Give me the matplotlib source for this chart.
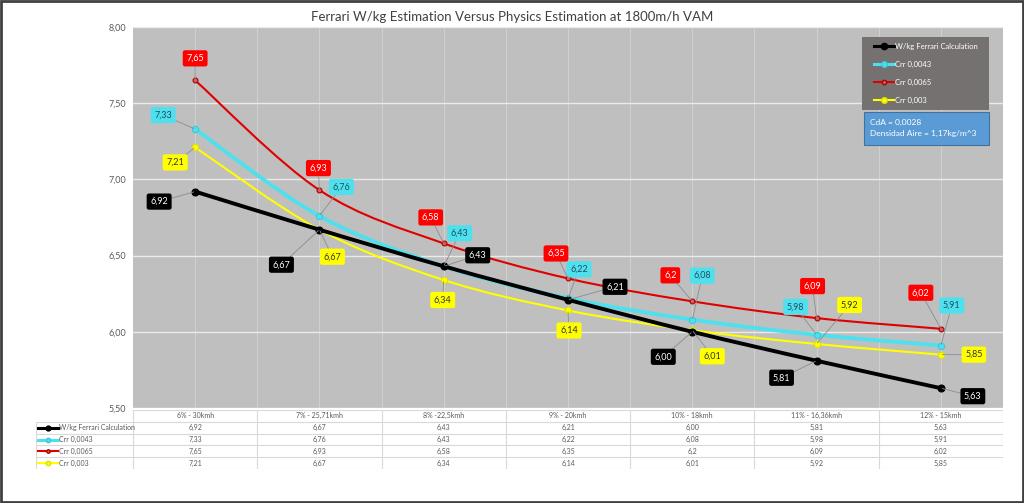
import numpy as np
import matplotlib
matplotlib.use("Agg")
import matplotlib.pyplot as plt
from matplotlib.path import Path
from matplotlib.patches import PathPatch, Rectangle
from matplotlib.lines import Line2D

plt.rcParams['font.family'] = ['Lato', 'DejaVu Sans']

# ---------------- data ----------------
categories = ["6% - 30kmh", "7% - 25,71kmh", "8% -22,5kmh", "9% - 20kmh",
              "10% - 18kmh", "11% - 16,36kmh", "12% - 15kmh"]
ferrari = [6.92, 6.67, 6.43, 6.21, 6.00, 5.81, 5.63]
crr_0043 = [7.33, 6.76, 6.43, 6.22, 6.08, 5.98, 5.91]
crr_0065 = [7.65, 6.93, 6.58, 6.35, 6.2, 6.09, 6.02]
crr_003 = [7.21, 6.67, 6.34, 6.14, 6.01, 5.92, 5.85]
series_names = ["W/kg Ferrari Calculation", "Crr 0,0043", "Crr 0,0065", "Crr 0,003"]
title = "Ferrari W/kg Estimation Versus Physics Estimation at 1800m/h VAM"
y_ticks = [5.5, 6.0, 6.5, 7.0, 7.5, 8.0]

# ---------------- styles ----------------
W, H = 1024, 503
fig = plt.figure(figsize=(W / 100, H / 100), dpi=100)
fig.patch.set_facecolor('white')

def fr(l, t, r, b):
    return [l / W, 1 - b / H, (r - l) / W, (b - t) / H]

def fx(px):
    return px / W

def fy(py):
    return 1 - py / H

styles = [
    dict(color='#000000', lw=2.8, ms=5.0, mfc='#000000', mec='#000000',
         fmt='{:.2f}', box='#000000', tc='white'),
    dict(color='#4FE0EE', lw=2.8, ms=4.5, mfc='#4FE0EE', mec='#3CC8D8',
         fmt='{:.2f}', box='#4FE0EE', tc='#1F4E60'),
    dict(color='#E00000', lw=1.5, ms=3.5, mfc='#D06060', mec='#B00000',
         fmt='{:g}', box='#FF0000', tc='white'),
    dict(color='#FFFF00', lw=1.5, ms=4.5, mfc='#FFFF00', mec='#E0E000',
         fmt='{:.2f}', box='#FFFF00', tc='#333333'),
]
# label offsets in pixels (dx right, dy down) per series per point
offsets = [
    [(-36, 10), (-38, 35), (34, -11), (47, -13), (-29, 25), (-35, 17), (32, 8)],
    [(-32, -14), (22, -29), (16, -33), (11, -29), (10, -44), (-21, -28), (11, -40)],
    [(0, -22), (-1, -22), (-13, -26), (-12, -25), (-22, -26), (-4, -32), (-20, -36)],
    [(-20, 15), (13, 27), (-1, 20), (1, 20), (20, 26), (33, -39), (33, 0)],
]

all_series = [ferrari, crr_0043, crr_0065, crr_003]

# ---------------- main axes ----------------
ax = fig.add_axes(fr(133, 27, 1003, 408))
ax.set_facecolor('#BFBFBF')
ax.set_xlim(-0.5, 6.5)
ax.set_ylim(5.5, 8.0)
for s in ax.spines.values():
    s.set_visible(False)
ax.set_yticks(y_ticks)
ax.set_yticklabels([f"{v:.2f}".replace('.', ',') for v in y_ticks],
                   fontsize=6.5, color='#595959')
ax.tick_params(axis='y', length=0, pad=5)
ax.set_xticks(np.arange(0, 6.6, 0.5))
ax.tick_params(axis='x', length=0, labelbottom=False)
ax.grid(axis='y', color='#EAEAEA', lw=1.0)
ax.grid(axis='x', color='#D0D0D0', lw=0.8)
ax.set_axisbelow(True)


def smooth_path(xs, ys):
    pts = np.column_stack([xs, ys]).astype(float)
    n = len(pts)
    verts = [pts[0]]
    codes = [Path.MOVETO]
    for i in range(n - 1):
        p0 = pts[i - 1] if i > 0 else pts[i]
        p1 = pts[i]
        p2 = pts[i + 1]
        p3 = pts[i + 2] if i + 2 < n else pts[i + 1]
        c1 = p1 + (p2 - p0) / 6.0
        c2 = p2 - (p3 - p1) / 6.0
        verts += [c1, c2, p2]
        codes += [Path.CURVE4] * 3
    return Path(verts, codes)


x = np.arange(len(categories))
order = [3, 2, 1, 0]
zs = {0: 5, 1: 4, 2: 3, 3: 3.5}
for k in order:
    vals = all_series[k]
    st = styles[k]
    ax.add_patch(PathPatch(smooth_path(x, vals), fc='none', ec=st['color'],
                           lw=st['lw'], zorder=zs[k], capstyle='round'))
    ax.plot(x, vals, ls='none', marker='o', ms=st['ms'], mfc=st['mfc'],
            mec=st['mec'], mew=0.8, zorder=zs[k] + 0.1)

for k in range(4):
    vals = all_series[k]
    st = styles[k]
    for i, v in enumerate(vals):
        dx, dy = offsets[k][i]
        ax.annotate(st['fmt'].format(v).replace('.', ','), xy=(i, v),
                    xytext=(dx, -dy), textcoords='offset pixels',
                    ha='center', va='center', fontsize=6.5, color=st['tc'],
                    bbox=dict(boxstyle='round,pad=0.4,rounding_size=0.25',
                              fc=st['box'], ec='none'),
                    arrowprops=dict(arrowstyle='-', color='#8C8C8C', lw=0.6,
                                    shrinkA=0, shrinkB=1),
                    zorder=8)

# ---------------- legend box ----------------
fig.add_artist(Rectangle((fx(862), fy(110)), (989 - 862) / W, (110 - 37) / H,
                         transform=fig.transFigure, fc='#767171', ec='none'))
leg_y = [46, 64, 82, 100]
for k in range(4):
    st = styles[k]
    yy = fy(leg_y[k])
    fig.add_artist(Line2D([fx(874), fx(894)], [yy, yy], transform=fig.transFigure,
                          color=st['color'], lw=min(st['lw'], 2.2)))
    fig.add_artist(Line2D([fx(884)], [yy], transform=fig.transFigure, ls='none',
                          marker='o', ms=st['ms'] * 0.9, mfc=st['mfc'], mec=st['mec']))
    fig.text(fx(895), yy, series_names[k], fontsize=5.5, color='white',
             ha='left', va='center')

fig.add_artist(Rectangle((fx(864), fy(145)), (989 - 864) / W, (145 - 112) / H,
                         transform=fig.transFigure, fc='#5B9BD5', ec='#41719C', lw=0.8))
fig.text(fx(870), fy(122), "CdA = 0,0028", fontsize=6, color='white', ha='left', va='center')
fig.text(fx(870), fy(133), "Densidad Aire = 1,17kg/m^3", fontsize=6, color='white',
         ha='left', va='center')

# ---------------- title ----------------
fig.text(0.5, fy(17), title, fontsize=9.5, color='#404040', ha='center', va='center')

# ---------------- data table ----------------
col_w = 870 / 7
xl = -0.5 - (133 - 36) / col_w
tax = fig.add_axes(fr(36, 410, 1003, 469))
tax.set_xlim(xl, 6.5)
tax.set_ylim(5, 0)
tax.axis('off')
gc = '#D9D9D9'
tax.plot([-0.5, 6.5], [0, 0], color=gc, lw=0.8)
for r in range(1, 6):
    tax.plot([xl, 6.5], [r, r], color=gc, lw=0.8)
for c in range(8):
    tax.plot([c - 0.5, c - 0.5], [0, 5], color=gc, lw=0.8)
tax.plot([xl, xl], [1, 5], color=gc, lw=0.8)

tcol = '#595959'
tfs = 5.0
for i, cat in enumerate(categories):
    tax.text(i, 0.5, cat, ha='center', va='center', fontsize=tfs, color=tcol)


def px2d(px):
    return xl + (px - 36) / col_w


for k in range(4):
    st = styles[k]
    for i, v in enumerate(all_series[k]):
        tax.text(i, k + 1.5, st['fmt'].format(v).replace('.', ','), ha='center',
                 va='center', fontsize=tfs, color=tcol)
    tax.plot([px2d(38), px2d(58)], [k + 1.5, k + 1.5], color=st['color'],
             lw=min(st['lw'], 2.2), clip_on=False)
    tax.plot([px2d(48)], [k + 1.5], ls='none', marker='o', ms=st['ms'] * 0.7,
             mfc=st['mfc'], mec=st['mec'], clip_on=False)
    tax.text(px2d(59), k + 1.5, series_names[k], ha='left', va='center',
             fontsize=tfs, color=tcol)

# ---------------- outer frame ----------------
fig.add_artist(Rectangle((0.001, 0.002), 0.998, 0.996, transform=fig.transFigure,
                         fill=False, ec='#404040', lw=2))

fig.savefig("out.png", dpi=100)
